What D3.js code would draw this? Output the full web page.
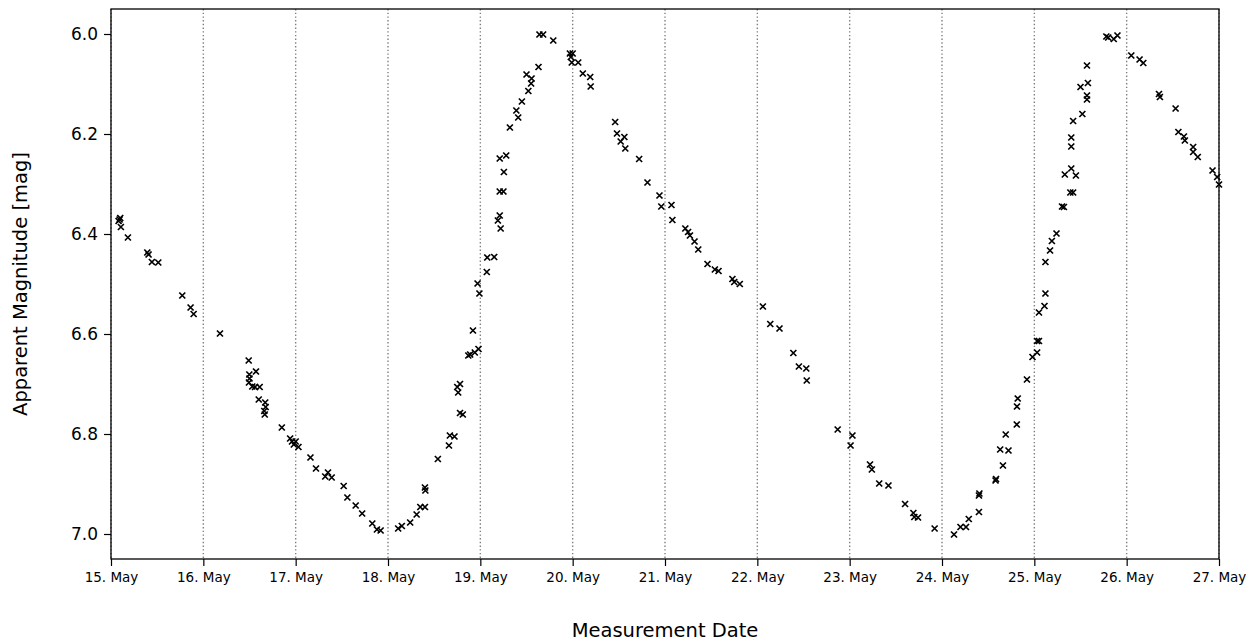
<!DOCTYPE html>
<html>
<head>
<meta charset="utf-8">
<script src="https://cdn.jsdelivr.net/npm/d3@7"></script>
<style>
  body { margin: 0; background: #fff; }
  svg { display: block; font-family: "DejaVu Sans", sans-serif; }
</style>
</head>
<body>
<div id="chart"></div>
<script>
// observation times (day of May, fractional) and magnitudes
var obsDay = [
  15.082, 15.093, 15.100, 15.107, 15.183, 15.393, 15.407, 15.443, 15.512, 15.772,
  15.862, 15.895, 16.180, 16.491, 16.494, 16.498, 16.500, 16.530, 16.560, 16.570,
  16.600, 16.610, 16.660, 16.665, 16.670, 16.675, 16.850, 16.940, 16.960, 16.980,
  17.000, 17.030, 17.160, 17.220, 17.320, 17.350, 17.390, 17.520, 17.560, 17.650,
  17.720, 17.830, 17.880, 17.920, 18.110, 18.150, 18.240, 18.310, 18.350, 18.400,
  18.400, 18.405, 18.540, 18.660, 18.670, 18.720, 18.750, 18.760, 18.780, 18.780,
  18.810, 18.870, 18.890, 18.920, 18.940, 18.970, 18.980, 18.990, 19.070, 19.075,
  19.150, 19.190, 19.210, 19.210, 19.210, 19.220, 19.250, 19.255, 19.280, 19.320,
  19.390, 19.410, 19.450, 19.500, 19.520, 19.550, 19.555, 19.630, 19.640, 19.680,
  19.790, 19.970, 19.980, 19.990, 20.000, 20.060, 20.110, 20.190, 20.195, 20.460,
  20.480, 20.520, 20.560, 20.570, 20.720, 20.810, 20.940, 20.960, 21.070, 21.080,
  21.220, 21.250, 21.270, 21.320, 21.360, 21.460, 21.540, 21.580, 21.730, 21.750,
  21.810, 22.060, 22.140, 22.240, 22.390, 22.450, 22.530, 22.535, 22.870, 23.010,
  23.030, 23.220, 23.240, 23.320, 23.420, 23.600, 23.690, 23.700, 23.740, 23.920,
  24.130, 24.200, 24.260, 24.290, 24.400, 24.400, 24.405, 24.580, 24.585, 24.630,
  24.660, 24.690, 24.720, 24.810, 24.812, 24.820, 24.920, 24.980, 25.030, 25.030,
  25.050, 25.050, 25.110, 25.120, 25.120, 25.170, 25.190, 25.240, 25.300, 25.320,
  25.330, 25.390, 25.400, 25.400, 25.400, 25.420, 25.420, 25.450, 25.500, 25.520,
  25.570, 25.570, 25.570, 25.580, 25.780, 25.800, 25.860, 25.900, 26.050, 26.140,
  26.180, 26.350, 26.360, 26.530, 26.560, 26.620, 26.630, 26.720, 26.720, 26.770,
  26.930, 26.980, 27.000
];
var obsMag = [
  6.374, 6.371, 6.368, 6.386, 6.407, 6.437, 6.441, 6.456, 6.457, 6.523,
  6.547, 6.560, 6.599, 6.653, 6.697, 6.681, 6.689, 6.705, 6.706, 6.675,
  6.731, 6.706, 6.754, 6.761, 6.737, 6.746, 6.787, 6.809, 6.815, 6.821,
  6.815, 6.826, 6.847, 6.869, 6.885, 6.877, 6.887, 6.904, 6.927, 6.943,
  6.959, 6.979, 6.991, 6.993, 6.989, 6.984, 6.977, 6.961, 6.946, 6.946,
  6.907, 6.913, 6.850, 6.823, 6.803, 6.805, 6.706, 6.717, 6.700, 6.758,
  6.761, 6.643, 6.641, 6.593, 6.637, 6.499, 6.630, 6.519, 6.476, 6.447,
  6.446, 6.373, 6.363, 6.315, 6.249, 6.389, 6.315, 6.276, 6.243, 6.187,
  6.153, 6.167, 6.135, 6.081, 6.114, 6.099, 6.089, 6.066, 6.001, 6.001,
  6.013, 6.039, 6.046, 6.057, 6.039, 6.057, 6.079, 6.086, 6.105, 6.176,
  6.199, 6.215, 6.206, 6.229, 6.250, 6.297, 6.323, 6.345, 6.342, 6.372,
  6.389, 6.396, 6.403, 6.415, 6.431, 6.460, 6.471, 6.474, 6.490, 6.496,
  6.500, 6.545, 6.580, 6.589, 6.638, 6.665, 6.669, 6.693, 6.791, 6.823,
  6.803, 6.861, 6.871, 6.899, 6.903, 6.940, 6.958, 6.966, 6.967, 6.989,
  7.001, 6.986, 6.986, 6.970, 6.956, 6.923, 6.919, 6.893, 6.890, 6.831,
  6.863, 6.801, 6.833, 6.781, 6.745, 6.729, 6.691, 6.646, 6.637, 6.614,
  6.614, 6.557, 6.544, 6.519, 6.456, 6.433, 6.414, 6.399, 6.345, 6.346,
  6.281, 6.317, 6.269, 6.225, 6.207, 6.317, 6.174, 6.283, 6.106, 6.160,
  6.131, 6.123, 6.063, 6.098, 6.005, 6.007, 6.010, 6.003, 6.043, 6.051,
  6.058, 6.120, 6.126, 6.149, 6.196, 6.205, 6.213, 6.226, 6.236, 6.246,
  6.273, 6.286, 6.301
];
var tickDays = [15, 16, 17, 18, 19, 20, 21, 22, 23, 24, 25, 26, 27];
var magTicks = [6.0, 6.2, 6.4, 6.6, 6.8, 7.0];
var magRange = [5.95, 7.05];

var width = 1258, height = 642;
var margin = {top: 9, right: 39, bottom: 83, left: 111};

function mayDate(d) {
    return new Date(Date.UTC(2020, 4, 1) + (d - 1) * 864e5);
}

var svg = d3.select("#chart")
    .append("svg")
    .attr("width", width)
    .attr("height", height);

var x = d3.scaleUtc()
    .domain([mayDate(15), mayDate(27)])
    .range([margin.left, width - margin.right]);

var y = d3.scaleLinear()
    .domain(magRange)
    .range([margin.top, height - margin.bottom]);

// vertical dotted grid at each day
svg.append("g")
    .selectAll("line")
    .data(tickDays)
    .enter().append("line")
    .attr("x1", d => x(mayDate(d)))
    .attr("x2", d => x(mayDate(d)))
    .attr("y1", margin.top)
    .attr("y2", height - margin.bottom)
    .attr("stroke", "#808080")
    .attr("stroke-width", 1.4)
    .attr("stroke-dasharray", "1.4,2.3");

// x axis
var xAxis = d3.axisBottom(x)
    .tickValues(tickDays.map(mayDate))
    .tickFormat(d3.utcFormat("%-d. %b"))
    .tickSize(7)
    .tickPadding(6);

var gx = svg.append("g")
    .attr("transform", "translate(0," + (height - margin.bottom) + ")")
    .call(xAxis);
gx.select(".domain").remove();
gx.selectAll("line").attr("stroke", "#000").attr("stroke-width", 1.2);
gx.selectAll("text")
    .attr("font-size", 13.5)
    .attr("fill", "#000")
    .attr("font-family", "DejaVu Sans");

// y axis
var yAxis = d3.axisLeft(y)
    .tickValues(magTicks)
    .tickFormat(d3.format(".1f"))
    .tickSize(7)
    .tickPadding(6);

var gy = svg.append("g")
    .attr("transform", "translate(" + margin.left + ",0)")
    .call(yAxis);
gy.select(".domain").remove();
gy.selectAll("line").attr("stroke", "#000").attr("stroke-width", 1.2);
gy.selectAll("text")
    .attr("font-size", 17)
    .attr("fill", "#000")
    .attr("font-family", "DejaVu Sans");

// frame
svg.append("rect")
    .attr("x", margin.left)
    .attr("y", margin.top)
    .attr("width", width - margin.left - margin.right)
    .attr("height", height - margin.top - margin.bottom)
    .attr("fill", "none")
    .attr("stroke", "#000")
    .attr("stroke-width", 1.3);

// x markers
var pts = obsDay.map((d, i) => ({t: mayDate(d), m: obsMag[i]}));
var s = 3;
svg.append("g")
    .selectAll("path")
    .data(pts)
    .enter().append("path")
    .attr("transform", d => "translate(" + x(d.t) + "," + y(d.m) + ")")
    .attr("d", "M" + (-s) + "," + (-s) + "L" + s + "," + s + "M" + (-s) + "," + s + "L" + s + "," + (-s))
    .attr("stroke", "#000")
    .attr("stroke-width", 1.7)
    .attr("fill", "none");

// axis labels
svg.append("text")
    .attr("x", (margin.left + width - margin.right) / 2)
    .attr("y", 637)
    .attr("text-anchor", "middle")
    .attr("font-size", 19.5)
    .text("Measurement Date");

svg.append("text")
    .attr("transform", "translate(27," + ((margin.top + height - margin.bottom) / 2) + ") rotate(-90)")
    .attr("text-anchor", "middle")
    .attr("font-size", 19.5)
    .text("Apparent Magnitude [mag]");
</script>
</body>
</html>
